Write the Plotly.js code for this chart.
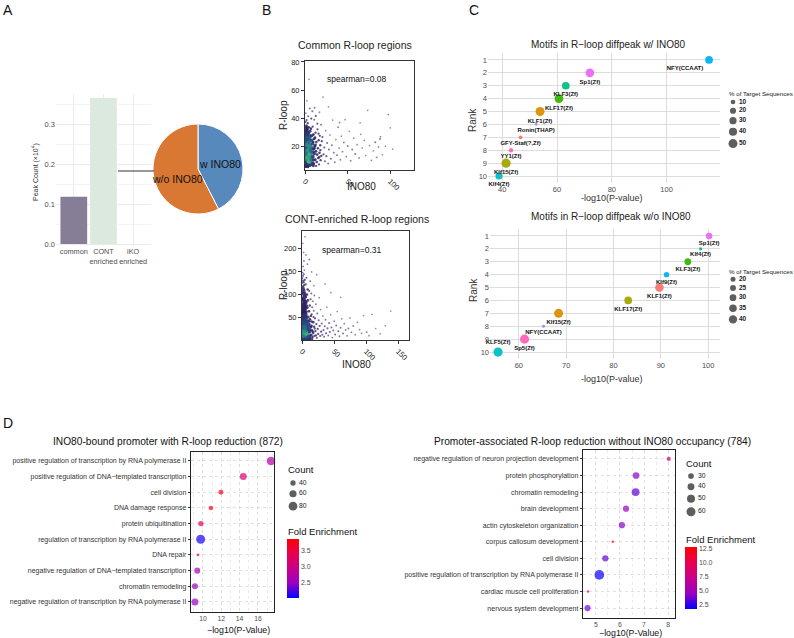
<!DOCTYPE html>
<html><head><meta charset="utf-8">
<script src="https://cdn.plot.ly/plotly-3.0.1.min.js"></script>
<style>html,body{margin:0;padding:0;background:#fff}#chart{width:794px;height:638px}</style>
</head><body><div id="chart"></div>
<script>
// ---------------- DATA ----------------
// Panel A
const peakCategories = ['common', 'CONT<br>enriched', 'iKO<br>enriched'];
const peakCounts = [0.118, 0.365, 0];          // x10^4
const pieLabels = ['w INO80', 'w/o INO80'];
const pieValues = [1550, 2100];

// Panel B: [INO80, R-loop]
const commonPts = [
[0.3,5.5],[0.8,7.2],[1.4,6.1],[2.1,8.4],[2.9,5.9],[3.6,7.7],[4.4,6.4],[5.2,8.9],[0.5,9.8],[1.1,11.3],[1.9,10.2],[2.6,12.5],[3.3,9.6],[4.1,11.8],[4.9,10.7],[5.7,12.9],[0.2,13.4],[0.9,14.8],[1.6,13.9],[2.4,15.6],[3.1,14.2],[3.9,16.3],[4.6,13.1],[5.5,15.1],[0.6,17.2],[1.3,18.6],[2.0,17.5],[2.8,19.3],[3.5,17.9],[4.3,19.8],[5.0,18.2],[5.9,20.4],[0.4,21.1],[1.0,22.6],[1.8,21.8],[2.5,23.4],[3.2,22.1],[4.0,24.0],[4.8,22.9],[0.7,25.3],[1.5,26.8],[2.2,25.9],[3.0,27.5],[3.8,26.2],[4.5,28.1],[0.3,29.4],[1.2,30.7],[2.0,29.9],[2.7,31.8],[3.6,30.2],[0.9,33.5],[1.7,34.6],[2.5,33.1],[0.5,37.2],[1.9,38.5],[3.2,36.4],[0.6,12.0],[1.7,15.8],[2.3,10.9],[3.4,20.6],[1.1,19.7],[2.6,16.9],[0.2,23.7],[1.4,9.1],[3.7,12.2],[2.9,24.6],[4.2,17.0],[0.8,27.7],[5.3,24.8],[6.2,9.5],[6.5,16.6],[6.0,21.7],[6.8,13.3],[7.1,6.7],[7.4,19.0],[7.8,11.1],[6.3,27.0],[7.6,24.2],[8.1,15.4],[8.4,8.0],
[0.4,8.1],[1.2,5.4],[2.4,6.7],[3.3,5.2],[5.6,6.2],[0.7,14.0],[1.9,12.8],[2.9,11.6],[4.5,9.0],[5.1,13.8],[6.6,11.9],[0.3,18.9],[1.5,20.6],[2.7,21.0],[3.9,22.7],[5.4,19.1],[6.9,18.0],[0.6,23.9],[1.8,24.9],[3.4,25.0],[4.9,26.9],[2.3,28.4],[3.9,29.3],[1.4,31.9],[4.2,33.4],[5.8,30.6],[8.0,27.5],[9.5,22.8],[10.9,18.2],[11.8,26.0],[7.0,10.0],[8.7,12.0],[9.8,5.9],[10.5,15.7],[12.3,20.9],
[8.9,21.5],[9.3,12.6],[9.7,17.8],[10.2,7.4],[10.6,25.1],[11.0,14.5],[11.5,19.9],[12.0,10.3],[12.4,29.6],[12.9,16.2],[13.3,22.8],[13.8,8.6],[14.2,13.9],[14.7,31.9],[15.1,18.4],[15.6,11.5],[16.0,24.1],[16.5,6.9],[17.0,15.2],[17.4,27.3],[17.9,20.6],[18.3,9.9],[18.8,35.2],[19.2,13.0],[19.7,23.5],[9.0,33.8],[10.8,38.7],[12.6,41.5],[14.5,36.0],[8.6,44.9],[11.2,47.3],[6.9,32.4],[9.9,28.2],[15.9,28.8],[7.3,39.6],[13.1,5.8],[18.1,17.1],[10.0,10.0],[16.8,12.1],
[20.5,26.4],[21.2,55.0],[21.8,14.1],[22.6,19.0],[23.4,9.2],[24.3,31.0],[25.1,12.8],[26.0,22.2],[27.2,7.5],[28.1,17.6],[29.3,27.9],[30.4,11.0],[31.6,20.5],[32.5,38.5],[33.8,15.3],[35.0,8.4],[36.2,24.6],[37.5,13.5],[38.8,33.4],[40.1,18.5],[41.5,10.2],[42.7,27.0],[44.0,16.0],[45.6,22.5],[47.1,38.8],[48.5,12.4],[50.2,20.0],[52.0,30.5],[53.6,9.5],[55.4,17.5],[57.3,25.6],[59.0,14.3],[61.2,21.0],[63.5,11.5],[65.4,28.4],[67.2,18.7],[69.5,24.0],[71.3,13.2],[73.6,45.5],[75.8,20.3],[78.0,9.8],[80.2,16.6],[82.5,22.7],[84.1,11.9],[86.3,19.4],[88.7,26.6],[91.0,13.7],[94.5,19.9],[97.8,42.5],[100.2,33.0],[103.0,17.8],
[4.7,67.6],[2.2,52.3],[5.6,46.8],[1.0,43.5],[3.8,41.2],[17.0,44.1],[27.5,48.0],[40.5,36.8],[64.7,36.6],[88.0,25.0]
];
const contPts = [
[0.3,2.5],[1.0,4.8],[1.8,1.9],[2.6,6.3],[3.4,3.1],[4.2,8.0],[5.0,2.2],[5.9,5.7],[6.7,9.3],[7.5,3.6],[0.6,10.5],[1.4,13.2],[2.2,11.1],[3.0,15.8],[3.8,12.4],[4.6,17.1],[5.4,14.0],[6.2,18.8],[7.1,13.5],[7.9,20.2],[0.2,20.6],[0.9,23.4],[1.7,21.9],[2.5,25.7],[3.3,22.5],[4.1,27.3],[4.9,24.1],[5.7,29.0],[6.5,25.6],[7.4,31.2],[0.5,31.5],[1.2,34.2],[2.0,32.7],[2.8,36.8],[3.6,33.6],[4.4,38.2],[5.3,35.4],[6.1,40.1],[7.0,37.0],[0.4,42.3],[1.1,45.6],[1.9,43.8],[2.7,47.9],[3.5,44.7],[4.3,49.5],[5.1,46.0],[6.0,51.3],[6.9,48.4],[0.8,53.9],[1.6,57.2],[2.4,55.0],[3.2,59.4],[4.0,56.3],[4.8,61.0],[5.6,58.1],[0.3,14.7],[1.5,7.6],[2.9,9.8],[0.7,38.6],[2.1,28.9],[3.9,19.6],[5.5,11.7],[1.3,27.1],[3.1,40.9],[4.5,31.9],[6.4,22.0],[7.7,16.4],[0.1,49.0],[2.3,18.0],[3.7,52.8],[1.0,0.8],[2.0,3.0],[3.0,0.9],[0.5,6.5],[1.5,16.9],[2.5,40.0],[0.2,36.0],[6.6,2.0],
[0.4,17.8],[1.6,19.5],[2.8,20.9],[4.0,23.0],[5.2,19.9],[0.8,28.0],[2.2,30.4],[3.6,27.9],[4.8,29.8],[6.3,33.2],[1.0,39.9],[2.5,37.4],[3.9,41.9],[5.6,43.6],[7.5,42.0],[0.6,47.6],[2.0,51.1],[3.3,48.8],[4.7,52.9],[6.4,55.5],[1.2,60.4],[2.8,62.5],[4.5,64.2],[6.7,61.4],[0.9,71.0],[2.9,73.6],[4.8,75.5],[1.9,84.5],[3.8,86.9],[5.9,80.0],[2.6,96.0],[4.0,99.9],[1.1,108.0],[3.0,110.5],[8.0,25.5],[9.6,18.3],[10.9,41.0],[12.3,22.6],[13.9,52.4],[11.7,8.5],[14.9,30.6],[16.6,17.9],[15.8,71.0],[17.9,39.1],[19.9,24.8],[0.3,8.9],[1.3,11.9],[2.3,14.3],[3.5,6.1],[4.4,12.9],[5.8,8.8],[7.3,7.1],[8.2,13.8],[0.9,2.0],[2.4,0.6],[4.6,3.9],[6.0,0.8],[10.0,3.0],[1.8,9.0],[3.2,17.3],
[0.5,63.5],[1.4,67.8],[2.3,65.2],[3.2,70.1],[4.1,66.9],[5.0,72.4],[6.0,68.3],[7.2,74.9],[0.8,76.2],[1.7,79.5],[2.6,77.3],[3.5,82.6],[4.4,78.8],[5.4,85.0],[6.5,81.7],[0.3,88.1],[1.2,91.4],[2.1,89.0],[3.0,94.7],[3.9,90.6],[4.9,97.2],[6.1,93.5],[0.6,100.3],[1.5,104.6],[2.4,101.9],[3.4,107.8],[4.5,103.2],[0.4,112.0],[1.3,116.3],[2.3,113.5],[3.3,119.2],[0.9,124.8],[1.9,128.6],[2.9,125.4],[0.5,134.0],[1.6,139.2],[0.8,146.5],[2.7,143.0],[8.3,70.5],[9.1,86.0],[7.6,98.8],[8.8,110.0],[5.8,121.0],[4.2,130.5],[6.9,135.2],[3.6,152.0],
[4.7,224.6],[1.2,210.0],[2.5,190.5],[6.2,185.0],[3.0,172.0],[8.5,165.0],[1.8,160.0],[11.5,175.0],[15.0,148.0],[23.0,142.0],[12.8,128.0],[18.5,118.0],
[8.6,5.1],[9.2,12.6],[9.9,24.3],[10.5,8.2],[11.1,33.9],[11.8,17.5],[12.4,45.1],[13.0,3.7],[13.7,27.8],[14.3,11.0],[15.0,55.6],[15.6,21.1],[16.3,6.4],[17.0,38.4],[17.6,15.3],[18.3,63.8],[19.0,28.9],[19.6,9.0],[20.3,47.2],[21.0,19.4],[21.7,78.0],[22.4,34.7],[23.1,4.6],[23.8,57.5],[24.5,24.0],[25.3,13.1],[26.0,42.9],[26.8,92.0],[27.5,30.5],[28.3,8.7],[29.1,66.3],[29.9,18.2],[9.5,50.1],[10.8,62.4],[12.1,75.0],[13.4,88.6],[14.6,101.3],[16.8,84.0],[19.3,96.7],[11.3,106.5],[8.9,40.5],[10.2,30.0],[14.8,40.2],[18.0,50.0],[22.0,10.0],[9.4,0.9],[12.7,1.5],[16.0,2.4],
[30.8,36.0],[31.7,11.4],[32.6,52.0],[33.6,21.6],[34.5,7.0],[35.5,29.8],[36.6,44.0],[37.6,14.7],[38.7,71.5],[39.8,25.3],[41.0,9.6],[42.2,37.1],[43.4,17.3],[44.7,55.0],[46.0,27.0],[47.4,5.3],[48.8,20.5],[50.3,40.8],[51.8,12.2],[53.4,31.7],[55.0,62.0],[56.7,18.9],[58.4,8.1],[60.2,26.6],[62.1,46.0],[64.0,14.0],[66.0,35.5],[68.1,21.9],[70.3,9.1],[72.5,25.0],[74.8,48.0],[77.2,16.7],[80.0,30.4],[83.0,11.6],[86.5,38.5],[90.0,22.4],[93.0,14.5],[96.0,53.0],[101.0,17.0],[104.5,9.4],[109.0,56.0],[115.0,25.0],[122.0,13.5],[130.0,31.0],[138.5,63.0],[60.5,93.0],[45.0,103.0],[36.0,122.0]
];

// Panel C
const motifRanks = [1,2,3,4,5,6,7,8,9,10];
const motifWNames = ['NFY(CCAAT)','Sp1(Zf)','KLF3(Zf)','KLF17(Zf)','KLF1(Zf)','Ronin(THAP)','GFY-Staf(?,Zf)','YY1(Zf)','Klf15(Zf)','Klf4(Zf)'];
const motifWLogP = [115.5, 72.0, 63.2, 60.7, 53.8, 52.4, 46.7, 43.2, 41.4, 38.8];
const motifWPct  = [35, 46, 35, 47, 50, 2, 5, 8, 52, 28];
const motifWoNames = ['Sp1(Zf)','Klf4(Zf)','KLF3(Zf)','Klf9(Zf)','KLF1(Zf)','KLF17(Zf)','Klf15(Zf)','NFY(CCAAT)','Sp5(Zf)','KLF5(Zf)'];
const motifWoLogP = [100.2, 98.4, 95.7, 91.2, 89.7, 83.1, 68.4, 65.2, 61.2, 55.6];
const motifWoPct  = [28, 12, 30, 22, 42, 36, 45, 12, 46, 47];
const pctLegendW  = [10, 20, 30, 40, 50];
const pctLegendWo = [20, 25, 30, 35, 40];

// Panel D
const goLeftTerms = ['positive regulation of transcription by RNA polymerase II','positive regulation of DNA−templated transcription','cell division','DNA damage response','protein ubiquitination','regulation of transcription by RNA polymerase II','DNA repair','negative regulation of DNA−templated transcription','chromatin remodeling','negative regulation of transcription by RNA polymerase II'];
const goLeftLogP  = [17.42, 14.40, 11.96, 10.87, 9.78, 9.75, 9.45, 9.38, 9.13, 9.13];
const goLeftCount = [77, 58, 36, 33, 40, 84, 19, 47, 47, 58];
const goLeftFE    = [2.7, 3.1, 3.75, 3.7, 3.3, 2.1, 3.85, 2.65, 2.55, 2.5];
const goRightTerms = ['negative regulation of neuron projection development','protein phosphorylation','chromatin remodeling','brain development','actin cytoskeleton organization','corpus callosum development','cell division','positive regulation of transcription by RNA polymerase II','cardiac muscle cell proliferation','nervous system development'];
const goRightLogP  = [8.03, 6.67, 6.65, 6.25, 6.08, 5.70, 5.39, 5.14, 4.67, 4.65];
const goRightCount = [20, 38, 49, 34, 34, 11, 35, 68, 11, 34];
const goRightFE    = [7.5, 4.2, 3.5, 4.5, 4.2, 12.5, 3.6, 2.0, 9.0, 3.9];
const countLegendL = [40, 60, 80];
const countLegendR = [30, 40, 50, 60];

// ---------------- HELPERS ----------------
const W = 794, H = 638;
const X = p => p / W, Y = p => 1 - p / H;
const F = 'Liberation Sans, Arial, sans-serif';
const hue10 = ['#F8766D','#D89000','#A3A500','#39B600','#00BF7D','#00BFC4','#00B0F6','#9590FF','#E76BF3','#FF62BC'];
function hueColors(names) {
  const sorted = names.slice().sort((a, b) => { const A = a.toLowerCase(), B = b.toLowerCase(); return A < B ? -1 : A > B ? 1 : 0; });
  return names.map(n => hue10[sorted.indexOf(n)]);
}
function density(pts, xr, yr, wpx, hpx, rad) {
  const P = pts.map(p => [(p[0]-xr[0])/(xr[1]-xr[0])*wpx, (p[1]-yr[0])/(yr[1]-yr[0])*hpx]);
  return P.map(a => P.reduce((n, b) => n + (((a[0]-b[0])**2 + (a[1]-b[1])**2) < rad*rad ? 1 : 0), 0));
}
const sizeCW  = v => 1.10*Math.sqrt(v) + 1.22;
const sizeCWo = v => 1.78*Math.sqrt(v) - 2.97;
const sizeDL  = v => 1.30*Math.sqrt(v) - 2.9;
const sizeDR  = v => 1.45*Math.sqrt(v) - 2.26;
function stackY(start, sizes, gap) { const out = [start]; for (let i = 1; i < sizes.length; i++) out.push(out[i-1] + (sizes[i-1]+sizes[i])/2 + gap); return out; }
const feScale = [[0,'#0000FF'],[0.25,'#9A00C3'],[0.5,'#C90088'],[0.75,'#E8004F'],[1,'#FF0000']];
const densScale = [[0,'#8a80ae'],[0.15,'#4a3b7c'],[0.4,'#2b1d5c'],[0.7,'#2a4a86'],[0.88,'#23888d'],[1,'#5cc46a']];

// ---------------- TRACES ----------------
const traces = [];
traces.push({type:'bar', x: peakCategories, y: peakCounts, width: 0.9, xaxis:'x', yaxis:'y',
  marker:{color:['#867d96','#dce9de','#dce9de']}, hoverinfo:'skip'});
traces.push({type:'pie', labels: pieLabels, values: pieValues, sort:false, direction:'clockwise', rotation:0,
  domain:{x:[X(153), X(243)], y:[Y(214), Y(124)]}, marker:{colors:['#5889bd','#d97833'], line:{color:'#fff', width:1}},
  textinfo:'none', hoverinfo:'skip', showlegend:false});

const bRanges = {c:{x:[0,128], y:[2.9,80.7], w:109, h:109}, k:{x:[0,167], y:[0,237], w:107, h:109}};
function densTrace(pts, r, xa, ya) {
  const d = density(pts, r.x, r.y, r.w, r.h, 6), m = Math.max(...d);
  return {type:'scatter', mode:'markers', x: pts.map(p=>p[0]), y: pts.map(p=>p[1]), xaxis:xa, yaxis:ya,
    marker:{size: d.map(v => 1.6 + 2.6*Math.pow(v/m, 0.8)), color:d, colorscale:densScale, cmin:1, cmax:m, opacity:0.9, line:{width:0}},
    hoverinfo:'skip'};
}
traces.push(densTrace(commonPts, bRanges.c, 'x2', 'y2'));
traces.push(densTrace(contPts, bRanges.k, 'x3', 'y3'));

const posW = motifWNames.map((n,i) => i === 0 ? 'bottom left' : 'bottom center');
const posWo = motifWoNames.map((n,i) => i === 9 ? 'top center' : 'bottom center');
traces.push({type:'scatter', mode:'markers+text', x: motifWLogP, y: motifRanks, text: motifWNames, xaxis:'x4', yaxis:'y4',
  textposition: posW, textfont:{size:6, family:F, color:'#111', weight:'bold'}, cliponaxis:false,
  marker:{size: motifWPct.map(sizeCW), color: hueColors(motifWNames), opacity:0.95, line:{width:0}}, hoverinfo:'skip'});
traces.push({type:'scatter', mode:'markers+text', x: motifWoLogP, y: motifRanks, text: motifWoNames, xaxis:'x5', yaxis:'y5',
  textposition: posWo, textfont:{size:6, family:F, color:'#111', weight:'bold'}, cliponaxis:false,
  marker:{size: motifWoPct.map(sizeCWo), color: hueColors(motifWoNames), opacity:0.95, line:{width:0}}, hoverinfo:'skip'});

const cbBase = {xref:'paper', yref:'paper', xanchor:'left', yanchor:'middle', lenmode:'pixels', thicknessmode:'pixels',
  thickness:12, outlinewidth:0, xpad:0, ypad:0, ticks:'', tickfont:{size:7, family:F, color:'#4d4d4d'}};
traces.push({type:'scatter', mode:'markers', x: goLeftLogP, y: goLeftTerms, xaxis:'x6', yaxis:'y6', cliponaxis:false,
  marker:{size: goLeftCount.map(sizeDL), color: goLeftFE, colorscale: feScale, cmin:2.03, cmax:3.87, line:{width:0},
    colorbar: Object.assign({}, cbBase, {x:X(287), y:Y(568.5), len:59, tickvals:[2.5,3.0,3.5], ticktext:['2.5','3.0','3.5']})},
  hoverinfo:'skip'});
traces.push({type:'scatter', mode:'markers', x: goRightLogP, y: goRightTerms, xaxis:'x7', yaxis:'y7', cliponaxis:false,
  marker:{size: goRightCount.map(sizeDR), color: goRightFE, colorscale: feScale, cmin:1.8, cmax:12.7, line:{width:0},
    colorbar: Object.assign({}, cbBase, {x:X(685), y:Y(578), len:62, tickvals:[2.5,5,7.5,10,12.5], ticktext:['2.5','5.0','7.5','10.0','12.5']})},
  hoverinfo:'skip'});

// size legends on a pixel overlay axis
function sizeLegend(vals, fn, start, gap, cx, tx, fontSize, bold) {
  const s = vals.map(fn), ys = stackY(start, s, gap);
  traces.push({type:'scatter', mode:'markers', x: vals.map(()=>cx), y: ys, xaxis:'x8', yaxis:'y8',
    marker:{size:s, color:'#1a1a1a', line:{width:0}}, hoverinfo:'skip', cliponaxis:false});
  traces.push({type:'scatter', mode:'text', x: vals.map(()=>tx), y: ys, text: vals.map(String), textposition:'middle right',
    xaxis:'x8', yaxis:'y8', textfont:{size:fontSize, family:F, color:'#222', weight: bold ? 'bold' : 'normal'}, hoverinfo:'skip', cliponaxis:false});
}
sizeLegend(pctLegendW, sizeCW, 102, 3.3, 733, 739, 6.5, true);
sizeLegend(pctLegendWo, sizeCWo, 279.3, 3.3, 733, 739, 6.5, true);
sizeLegend(countLegendL, sizeDL, 483, 4.5, 293, 299, 6.8, false);
sizeLegend(countLegendR, sizeDR, 476, 4.5, 691, 698, 6.8, false);

// ---------------- LAYOUT ----------------
const tf = (s, c) => ({size:s, family:F, color:c || '#4d4d4d'});
const boxAx = {showline:true, mirror:true, linecolor:'#333', linewidth:1, ticks:'outside', ticklen:3, tickcolor:'#333',
  showgrid:false, zeroline:false, tickfont: tf(7.5,'#222')};
const cAx = {showgrid:true, gridcolor:'#d9d9d9', gridwidth:0.9, zeroline:false, showline:false, ticks:'', tickfont: tf(7.5)};
const dAx = {showline:true, mirror:true, linecolor:'#222', linewidth:1.2, showgrid:true, gridcolor:'#dadada', griddash:'dot',
  gridwidth:0.8, zeroline:false, ticks:'', tickcolor:'#333'};
const yDomA = [Y(246), Y(94)], yRngA = [-0.005, 0.375];
const lineYA = yDomA[0] + (peakCounts[1]/2 - yRngA[0])/(yRngA[1]-yRngA[0])*(yDomA[1]-yDomA[0]);

const layout = {
  width: W, height: H, margin:{l:0, r:0, t:0, b:0}, paper_bgcolor:'#fff', plot_bgcolor:'rgba(0,0,0,0)',
  showlegend:false, font:{family:F},
  xaxis:{domain:[X(56), X(151)], anchor:'y', type:'category', categoryorder:'array', categoryarray:peakCategories, range:[-0.6,2.6],
    showgrid:true, gridcolor:'#ebebeb', ticks:'', showline:false, zeroline:false, tickangle:0, tickfont: tf(7.3)},
  yaxis:{domain:yDomA, anchor:'x', range:yRngA, tick0:0, dtick:0.1, tickformat:'.1f', showgrid:true, gridcolor:'#ebebeb',
    minor:{tick0:0, dtick:0.05, showgrid:true, gridcolor:'#f4f4f4'}, zeroline:false, showline:false, ticks:'', tickfont: tf(7.5)},
  xaxis2: Object.assign({}, boxAx, {domain:[X(305), X(414)], anchor:'y2', range:bRanges.c.x, tickvals:[0,50,100], tickangle:45}),
  yaxis2: Object.assign({}, boxAx, {domain:[Y(170), Y(61)], anchor:'x2', range:bRanges.c.y, tickvals:[20,40,60,80]}),
  xaxis3: Object.assign({}, boxAx, {domain:[X(302), X(409)], anchor:'y3', range:bRanges.k.x, tickvals:[0,50,100,150], tickangle:45}),
  yaxis3: Object.assign({}, boxAx, {domain:[Y(340), Y(231)], anchor:'x3', range:bRanges.k.y, tickvals:[50,100,150,200]}),
  xaxis4: Object.assign({}, cAx, {domain:[X(488), X(720)], anchor:'y4', range:[34.8,119.5], tickvals:[40,60,80,100]}),
  yaxis4: Object.assign({}, cAx, {domain:[Y(183), Y(53)], anchor:'x4', range:[10.54,0.46], tickvals:motifRanks}),
  xaxis5: Object.assign({}, cAx, {domain:[X(490), X(720)], anchor:'y5', range:[53.9,102.5], tickvals:[60,70,80,90,100]}),
  yaxis5: Object.assign({}, cAx, {domain:[Y(359), Y(229)], anchor:'x5', range:[10.54,0.46], tickvals:motifRanks}),
  xaxis6: Object.assign({}, dAx, {domain:[X(191), X(274)], anchor:'y6', range:[8.7,17.75], tickvals:[10,12,14,16],
    minor:{tick0:0, dtick:1, showgrid:true, gridcolor:'#e6e6e6', griddash:'dot'}, tickfont: tf(6.8)}),
  yaxis6: Object.assign({}, dAx, {domain:[Y(612), Y(452)], anchor:'x6', type:'category', categoryorder:'array',
    categoryarray: goLeftTerms, range:[9.64,-0.57], ticks:'outside', ticklen:2, tickfont: tf(7,'#333')}),
  xaxis7: Object.assign({}, dAx, {domain:[X(583), X(675)], anchor:'y7', range:[4.46,8.29], tickvals:[5,6,7,8],
    minor:{tick0:0, dtick:0.5, showgrid:true, gridcolor:'#e6e6e6', griddash:'dot'}, tickfont: tf(6.8)}),
  yaxis7: Object.assign({}, dAx, {domain:[Y(618), Y(450)], anchor:'x7', type:'category', categoryorder:'array',
    categoryarray: goRightTerms, range:[9.6,-0.54], ticks:'outside', ticklen:2, tickfont: tf(7,'#333')}),
  xaxis8:{domain:[0,1], anchor:'y8', range:[0,W], visible:false, fixedrange:true},
  yaxis8:{domain:[0,1], anchor:'x8', range:[H,0], visible:false, fixedrange:true},
  shapes:[{type:'line', xref:'paper', yref:'paper', x0:X(118), x1:X(154), y0:lineYA, y1:lineYA, line:{color:'#333', width:1}}],
  annotations:[]
};

function ann(text, x, y, o) {
  o = o || {};
  layout.annotations.push(Object.assign({text, x:X(x), y:Y(y), xref:'paper', yref:'paper', showarrow:false,
    xanchor:o.xa || 'center', yanchor:'middle', textangle:o.angle || 0,
    font:{size:o.size || 9, family:F, color:o.color || '#111', weight:o.weight || 'normal'}}));
}
// panel letters
ann('A', 8, 10, {size:14}); ann('B', 266, 10, {size:14}); ann('C', 474, 10, {size:14}); ann('D', 8, 423, {size:14});
// A
ann('Peak Count (×10<sup>4</sup>)', 35, 172, {size:7, angle:-90, color:'#333'});
ann(pieLabels[0], 220, 164, {size:10.5, color:'#111'});
ann(pieLabels[1], 177, 179, {size:10.5, color:'#111'});
// B
ann('Common R-loop regions', 355, 45, {size:10.5, color:'#222'});
ann('spearman=0.08', 357, 79, {size:8.5, color:'#111'});
ann('R-loop', 283, 115, {size:10, angle:-90, color:'#222'});
ann('INO80', 361, 186, {size:10, color:'#222'});
ann('CONT-enriched R-loop regions', 357, 219, {size:10.5, color:'#222'});
ann('spearman=0.31', 352, 250, {size:8.5, color:'#111'});
ann('R-loop', 283, 285, {size:10, angle:-90, color:'#222'});
ann('INO80', 356, 364, {size:10, color:'#222'});
// C
ann('Motifs in R−loop diffpeak w/ INO80', 608, 45, {size:10, color:'#222'});
ann('Rank', 473, 120, {size:10, angle:-90, color:'#333'});
ann('-log10(P-value)', 612, 198, {size:9, color:'#333'});
ann('% of Target Sequences', 727, 93, {size:6.2, xa:'left', color:'#222'});
ann('Motifs in R−loop diffpeak w/o INO80', 611, 217, {size:10, color:'#222'});
ann('Rank', 473, 290, {size:10, angle:-90, color:'#333'});
ann('-log10(P-value)', 612, 379, {size:9, color:'#333'});
ann('% of Target Sequences', 727, 271, {size:6.2, xa:'left', color:'#222'});
// D
ann('INO80-bound promoter with R-loop reduction (872)', 168, 442, {size:10.2, color:'#111'});
ann('−log10(P-Value)', 238, 630, {size:8.8, color:'#111'});
ann('Count', 286, 469, {size:9.5, xa:'left', color:'#111'});
ann('Fold Enrichment', 286, 531, {size:9.5, xa:'left', color:'#111'});
ann('Promoter-associated R-loop reduction without INO80 occupancy (784)', 592, 442, {size:10.2, color:'#111'});
ann('−log10(P-Value)', 630, 633, {size:8.8, color:'#111'});
ann('Count', 684, 463, {size:9.5, xa:'left', color:'#111'});
ann('Fold Enrichment', 684, 539, {size:9.5, xa:'left', color:'#111'});

Plotly.newPlot('chart', traces, layout, {staticPlot:true, displayModeBar:false});
</script>
</body></html>
